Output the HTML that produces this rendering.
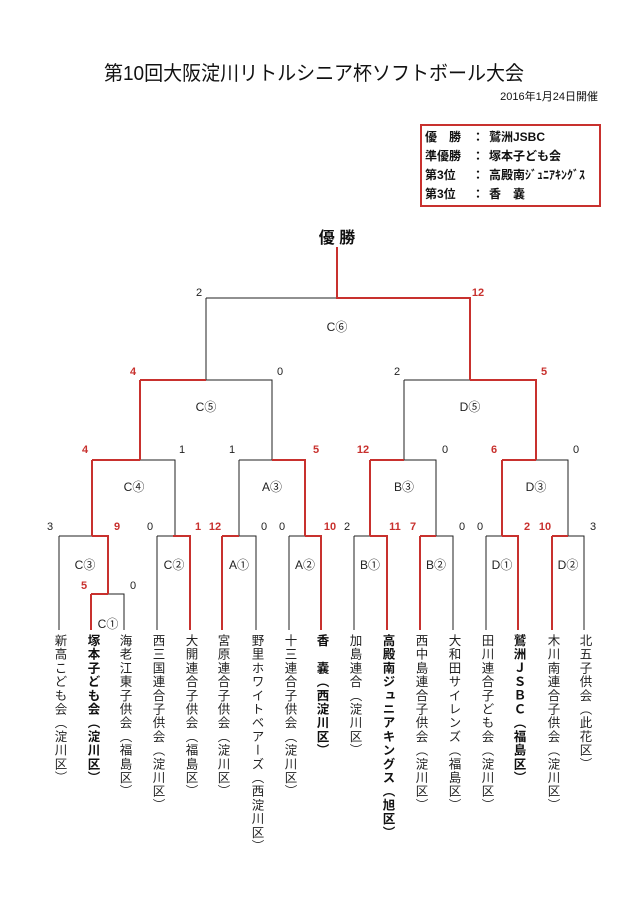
<!DOCTYPE html>
<html><head><meta charset="utf-8"><style>
html,body{margin:0;padding:0;background:#fff;}
svg{display:block;}
text{font-family:"Liberation Sans","Noto Sans CJK JP",sans-serif;}
.n{font-size:11px;fill:#222;}
.r{font-size:11px;fill:#c8312e;font-weight:bold;}
.l{font-size:12px;fill:#222;}
.v{position:absolute;writing-mode:vertical-rl;font-family:"Liberation Sans","Noto Sans CJK JP",sans-serif;font-size:12.5px;line-height:13px;color:#222;transform:translateX(-50%);top:634px;letter-spacing:1.2px;}
.b{font-weight:bold;color:#111;}
</style></head><body>
<div style="position:relative;width:640px;height:905px;overflow:hidden;">
<svg width="640" height="905" viewBox="0 0 640 905" xmlns="http://www.w3.org/2000/svg">
<text x="104" y="80" font-size="20" textLength="420" lengthAdjust="spacingAndGlyphs" fill="#111">第10回大阪淀川リトルシニア杯ソフトボール大会</text>
<text x="598" y="100" font-size="11" text-anchor="end" fill="#111">2016年1月24日開催</text>
<rect x="421" y="125" width="179" height="81" fill="none" stroke="#c8312e" stroke-width="2"/>
<g font-size="12" fill="#111" font-weight="bold">
<text x="425" y="141">優　勝</text><text x="472" y="141">：</text><text x="489" y="141">鷲洲JSBC</text>
<text x="425" y="160">準優勝</text><text x="472" y="160">：</text><text x="489" y="160">塚本子ども会</text>
<text x="425" y="179">第3位</text><text x="472" y="179">：</text><text x="489" y="179" textLength="96" lengthAdjust="spacingAndGlyphs">高殿南ｼﾞｭﾆｱｷﾝｸﾞｽ</text>
<text x="425" y="198">第3位</text><text x="472" y="198">：</text><text x="489" y="198">香　嚢</text>
</g>
<text x="337" y="243" font-size="16" font-weight="bold" text-anchor="middle" fill="#111">優 勝</text>

<g stroke="#222" stroke-width="1" fill="none">
<path d="M206 298H337M206 298V380"/>
<path d="M206 380H272V460M404 380H470M404 380V460"/>
<path d="M140 460H175V536M239 460H272M239 460V536M404 460H436V536M536 460H568V536"/>
<path d="M59 536H92M59 536V630M108 594H124V630M157 536H173M157 536V630M239 536H256V630M289 536H305M289 536V630M354 536H370M354 536V630M436 536H453V630M486 536H502M486 536V630M568 536H584V630"/>
</g>
<g stroke="#c8312e" stroke-width="2" fill="none">
<path d="M337 247V298H470V380"/>
<path d="M140 380H206M140 380V460M470 380H536V460"/>
<path d="M92 460H140M92 460V536M272 460H305V536M370 460H404M370 460V536M502 460H536M502 460V536"/>
<path d="M92 536H108V594M91 594H108M91 594V630M173 536H190V630M222 536H239M222 536V630M305 536H321V630M370 536H387V630M420 536H436M420 536V630M502 536H518V630M552 536H568M552 536V630"/>
</g>

<text class="n" x="199" y="296" text-anchor="middle">2</text>
<text class="r" x="478" y="296" text-anchor="middle">12</text>
<text class="l" x="337" y="331" text-anchor="middle">C⑥</text>
<text class="r" x="133" y="375" text-anchor="middle">4</text>
<text class="n" x="280" y="375" text-anchor="middle">0</text>
<text class="n" x="397" y="375" text-anchor="middle">2</text>
<text class="r" x="544" y="375" text-anchor="middle">5</text>
<text class="l" x="206" y="411" text-anchor="middle">C⑤</text>
<text class="l" x="470" y="411" text-anchor="middle">D⑤</text>
<text class="r" x="85" y="453" text-anchor="middle">4</text>
<text class="n" x="182" y="453" text-anchor="middle">1</text>
<text class="n" x="232" y="453" text-anchor="middle">1</text>
<text class="r" x="316" y="453" text-anchor="middle">5</text>
<text class="r" x="363" y="453" text-anchor="middle">12</text>
<text class="n" x="445" y="453" text-anchor="middle">0</text>
<text class="r" x="494" y="453" text-anchor="middle">6</text>
<text class="n" x="576" y="453" text-anchor="middle">0</text>
<text class="l" x="134" y="491" text-anchor="middle">C④</text>
<text class="l" x="272" y="491" text-anchor="middle">A③</text>
<text class="l" x="404" y="491" text-anchor="middle">B③</text>
<text class="l" x="536" y="491" text-anchor="middle">D③</text>
<g text-anchor="middle">
<text class="n" x="50" y="530">3</text><text class="r" x="117" y="530">9</text>
<text class="n" x="150" y="530">0</text><text class="r" x="198" y="530">1</text>
<text class="r" x="215" y="530">12</text><text class="n" x="264" y="530">0</text>
<text class="n" x="282" y="530">0</text><text class="r" x="330" y="530">10</text>
<text class="n" x="347" y="530">2</text><text class="r" x="395" y="530">11</text>
<text class="r" x="413" y="530">7</text><text class="n" x="462" y="530">0</text>
<text class="n" x="480" y="530">0</text><text class="r" x="527" y="530">2</text>
<text class="r" x="545" y="530">10</text><text class="n" x="593" y="530">3</text>
<text class="r" x="84" y="589">5</text><text class="n" x="133" y="589">0</text>
</g>
<g text-anchor="middle">
<text class="l" x="85" y="569">C③</text><text class="l" x="174" y="569">C②</text>
<text class="l" x="239" y="569">A①</text><text class="l" x="305" y="569">A②</text>
<text class="l" x="370" y="569">B①</text><text class="l" x="436" y="569">B②</text>
<text class="l" x="502" y="569">D①</text><text class="l" x="568" y="569">D②</text>
<text class="l" x="108" y="628">C①</text>
</g>
</svg>
<div class="v" style="left:59px">新高こども会（淀川区）</div>
<div class="v b" style="left:92px">塚本子ども会（淀川区）</div>
<div class="v" style="left:124px">海老江東子供会（福島区）</div>
<div class="v" style="left:157px">西三国連合子供会（淀川区）</div>
<div class="v" style="left:190px">大開連合子供会（福島区）</div>
<div class="v" style="left:222px">宮原連合子供会（淀川区）</div>
<div class="v" style="left:256px">野里ホワイトベアーズ（西淀川区）</div>
<div class="v" style="left:289px">十三連合子供会（淀川区）</div>
<div class="v b" style="left:321px">香　嚢（西淀川区）</div>
<div class="v" style="left:354px">加島連合（淀川区）</div>
<div class="v b" style="left:387px">高殿南ジュニアキングス（旭区）</div>
<div class="v" style="left:420px">西中島連合子供会（淀川区）</div>
<div class="v" style="left:453px">大和田サイレンズ（福島区）</div>
<div class="v" style="left:486px">田川連合子ども会（淀川区）</div>
<div class="v b" style="left:518px">鷲洲ＪＳＢＣ（福島区）</div>
<div class="v" style="left:552px">木川南連合子供会（淀川区）</div>
<div class="v" style="left:584px">北五子供会（此花区）</div>
</div>
</body></html>
